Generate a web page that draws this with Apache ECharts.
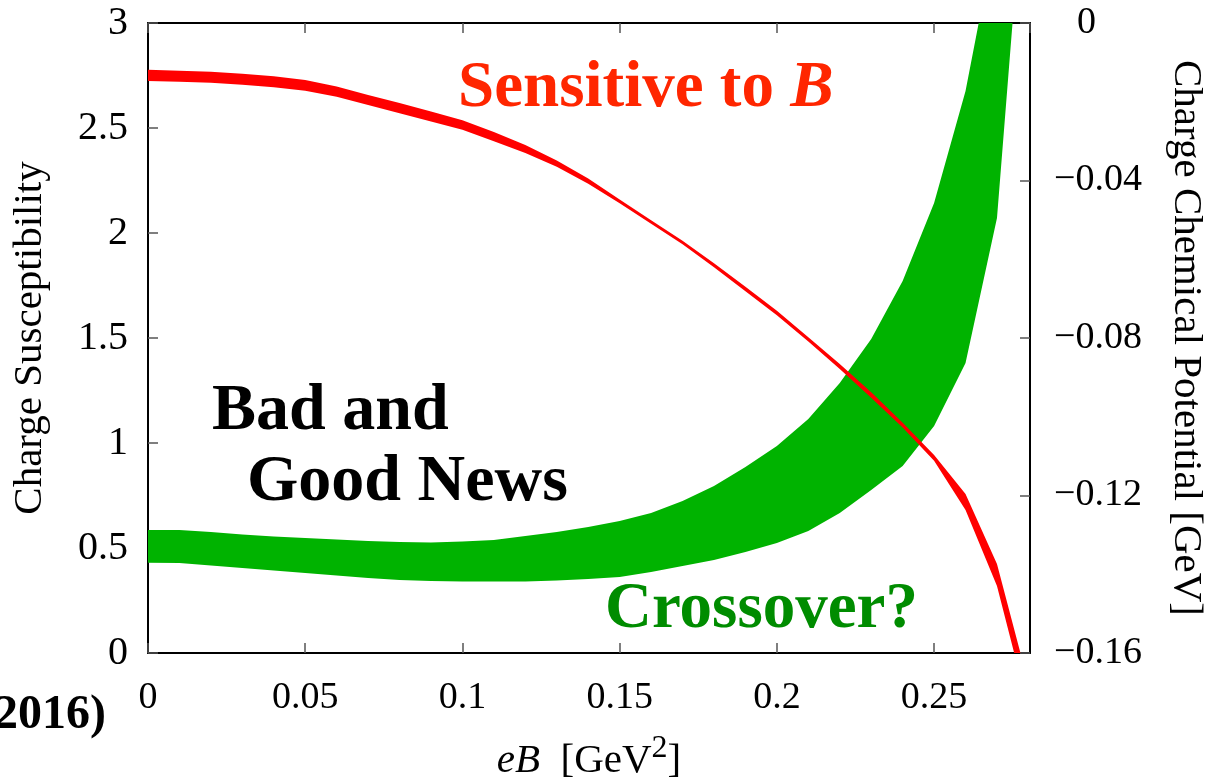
<!DOCTYPE html>
<html>
<head>
<meta charset="utf-8">
<script src="https://cdn.jsdelivr.net/npm/echarts@6/dist/echarts.min.js"></script>
<style>
  html, body { margin: 0; padding: 0; background: #ffffff; }
  #chart { width: 1209px; height: 784px; }
</style>
</head>
<body>
<div id="chart"></div>
<script>
// Magnetic field strength eB [GeV^2]
const eB = [0, 0.01, 0.02, 0.03, 0.04, 0.05, 0.06, 0.07, 0.08, 0.09,
            0.10, 0.11, 0.12, 0.13, 0.14, 0.15, 0.16, 0.17, 0.18, 0.19,
            0.20, 0.21, 0.22, 0.23, 0.24, 0.25, 0.26, 0.27, 0.28];

// Charge susceptibility band (left axis): lower and upper edges
const chiLow  = [0.430, 0.429, 0.417, 0.405, 0.393, 0.381, 0.369, 0.357, 0.348, 0.343,
                 0.340, 0.340, 0.340, 0.345, 0.352, 0.362, 0.386, 0.414, 0.443, 0.481,
                 0.524, 0.581, 0.667, 0.776, 0.890, 1.081, 1.381, 2.071, 3.950];
const chiHigh = [0.586, 0.586, 0.576, 0.564, 0.555, 0.548, 0.540, 0.533, 0.529, 0.526,
                 0.531, 0.538, 0.557, 0.576, 0.600, 0.629, 0.667, 0.724, 0.795, 0.886,
                 0.986, 1.114, 1.286, 1.495, 1.771, 2.143, 2.676, 3.450, 4.600];

// Charge chemical potential band (right axis, GeV): lower and upper edges
const muLow  = [-0.0147, -0.0149, -0.0152, -0.0157, -0.0163, -0.0172, -0.0187, -0.0208, -0.0229, -0.0250,
                -0.0271, -0.0300, -0.0330, -0.0365, -0.0408, -0.0458, -0.0510, -0.0562, -0.0620, -0.0681,
                -0.0742, -0.0809, -0.0879, -0.0952, -0.1027, -0.1112, -0.1237, -0.1430, -0.1741];
const muHigh = [-0.0119, -0.0121, -0.0124, -0.0129, -0.0135, -0.0145, -0.0161, -0.0183, -0.0203, -0.0225,
                -0.0247, -0.0277, -0.0310, -0.0349, -0.0395, -0.0448, -0.0501, -0.0553, -0.0610, -0.0670,
                -0.0731, -0.0798, -0.0866, -0.0938, -0.1015, -0.1097, -0.1196, -0.1374, -0.1677];

// Tick settings
const xTicks = { min: 0, max: 0.2805, interval: 0.05 };
const chiTicks = { min: 0, max: 3, interval: 0.5 };
const muTicks = { min: -0.16, max: 0, interval: 0.04 };

const SERIF = 'Liberation Serif';
const GREEN_FILL = '#00b300';
const RED_FILL = '#ff0000';

// Filled band between two edges, drawn as one polygon clipped to the plot area
function bandRenderer(xs, lows, highs, color) {
  return function (params, api) {
    if (params.dataIndex !== 0) return null;
    const pts = [];
    for (let i = 0; i < xs.length; i++) pts.push(api.coord([xs[i], highs[i]]));
    for (let i = xs.length - 1; i >= 0; i--) pts.push(api.coord([xs[i], lows[i]]));
    const cs = params.coordSys;
    return {
      type: 'polygon',
      shape: { points: pts },
      style: { fill: color, stroke: null },
      clipPath: { type: 'rect', shape: { x: cs.x, y: cs.y, width: cs.width, height: cs.height } }
    };
  };
}

const tickStyle = { show: true, inside: true, length: 10, lineStyle: { color: '#555', width: 1.5 } };
const lineStyle = { show: true, onZero: false, lineStyle: { color: '#000', width: 2 } };

const chart = echarts.init(document.getElementById('chart'));
chart.setOption({
  animation: false,
  backgroundColor: '#ffffff',
  grid: { left: 148, right: 179, top: 23, bottom: 131, containLabel: false, outerBoundsMode: 'none' },
  xAxis: [
    {
      type: 'value', position: 'bottom',
      min: xTicks.min, max: xTicks.max, interval: xTicks.interval,
      axisLine: lineStyle, axisTick: tickStyle, splitLine: { show: false },
      axisLabel: { show: true, showMaxLabel: false, margin: 26, color: '#000', fontFamily: SERIF, fontSize: 38 },
      name: '{i|eB}  [GeV{s|2}]',
      nameLocation: 'middle', nameGap: 80,
      nameTextStyle: {
        color: '#000', fontFamily: SERIF, fontSize: 41, lineHeight: 56,
        rich: {
          i: { fontStyle: 'italic', fontFamily: SERIF, fontSize: 41, lineHeight: 56, color: '#000' },
          s: { fontFamily: SERIF, fontSize: 32, lineHeight: 32, verticalAlign: 'top', color: '#000' }
        }
      }
    },
    {
      type: 'value', position: 'top',
      min: xTicks.min, max: xTicks.max, interval: xTicks.interval,
      axisLine: lineStyle, axisTick: tickStyle, splitLine: { show: false },
      axisLabel: { show: false }
    }
  ],
  yAxis: [
    {
      type: 'value', position: 'left',
      min: chiTicks.min, max: chiTicks.max, interval: chiTicks.interval,
      axisLine: lineStyle, axisTick: tickStyle, splitLine: { show: false },
      axisLabel: { margin: 20, color: '#000', fontFamily: SERIF, fontSize: 40 },
      name: 'Charge Susceptibility',
      nameLocation: 'middle', nameGap: 97,
      nameTextStyle: { color: '#000', fontFamily: SERIF, fontSize: 41 }
    },
    {
      type: 'value', position: 'right',
      min: muTicks.min, max: muTicks.max, interval: muTicks.interval,
      axisLine: lineStyle, axisTick: tickStyle, splitLine: { show: false },
      axisLabel: {
        margin: 24, color: '#000', fontFamily: SERIF, fontSize: 38,
        formatter: function (v) {
          if (Math.abs(v) < 1e-9) return '{z|0}';
          return '\u2212' + Math.abs(v).toFixed(2);
        },
        rich: { z: { fontFamily: SERIF, fontSize: 38, color: '#000', padding: [0, 0, 0, 23] } }
      },
      name: 'Charge Chemical Potential [GeV]',
      nameLocation: 'middle', nameGap: 135, nameRotate: -90,
      nameTextStyle: { color: '#000', fontFamily: SERIF, fontSize: 41 }
    }
  ],
  series: [
    {
      name: 'Charge Susceptibility',
      type: 'custom',
      xAxisIndex: 0, yAxisIndex: 0,
      data: eB.map((x, i) => [x, chiLow[i], chiHigh[i]]),
      encode: { x: 0, y: [1, 2] },
      renderItem: bandRenderer(eB, chiLow, chiHigh, GREEN_FILL),
      z: 2
    },
    {
      name: 'Charge Chemical Potential',
      type: 'custom',
      xAxisIndex: 0, yAxisIndex: 1,
      data: eB.map((x, i) => [x, muLow[i], muHigh[i]]),
      encode: { x: 0, y: [1, 2] },
      renderItem: bandRenderer(eB, muLow, muHigh, RED_FILL),
      z: 3
    }
  ],
  graphic: [
    {
      type: 'text', left: 458, top: 57, z: 10,
      style: {
        text: '{n|Sensitive to }{b|B}',
        rich: {
          n: { fontFamily: SERIF, fontWeight: 'bold', fontSize: 65, fill: '#ff2600' },
          b: { fontFamily: SERIF, fontWeight: 'bold', fontStyle: 'italic', fontSize: 65, fill: '#ff2600' }
        }
      }
    },
    {
      type: 'text', left: 212, top: 379, z: 10,
      style: { text: 'Bad and', fontFamily: SERIF, fontWeight: 'bold', fontSize: 66, fill: '#000' }
    },
    {
      type: 'text', left: 247, top: 450, z: 10,
      style: { text: 'Good News', fontFamily: SERIF, fontWeight: 'bold', fontSize: 66, fill: '#000' }
    },
    {
      type: 'text', left: 605, top: 578, z: 10,
      style: { text: 'Crossover?', fontFamily: SERIF, fontWeight: 'bold', fontSize: 65, fill: '#008c00' }
    },
    {
      type: 'text', right: 1209 - 106, top: 692, z: 10,
      style: { text: '2016)', fontFamily: SERIF, fontWeight: 'bold', fontSize: 48, fill: '#000' }
    }
  ]
});
</script>
</body>
</html>
